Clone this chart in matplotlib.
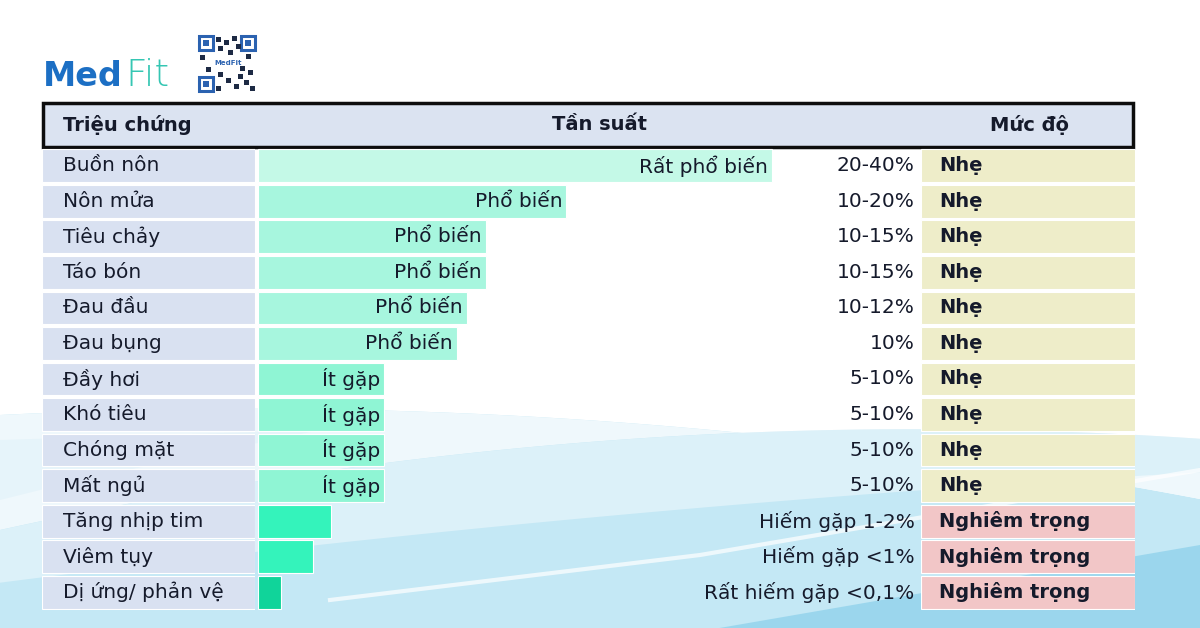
import numpy as np
import matplotlib
matplotlib.use("Agg")
import matplotlib.pyplot as plt
from matplotlib.patches import Rectangle, Polygon

plt.rcParams['font.family'] = ['DejaVu Sans']

# ---- data ----
symptoms = ["Buồn nôn", "Nôn mửa", "Tiêu chảy", "Táo bón", "Đau đầu", "Đau bụng",
            "Đầy hơi", "Khó tiêu", "Chóng mặt", "Mất ngủ", "Tăng nhịp tim",
            "Viêm tụy", "Dị ứng/ phản vệ"]
bar_score = [100, 60, 44.4, 44.4, 40.7, 38.7, 24.5, 24.5, 24.5, 24.5, 14.2, 10.7, 4.5]
freq_class = ["Rất phổ biến", "Phổ biến", "Phổ biến", "Phổ biến", "Phổ biến", "Phổ biến",
              "Ít gặp", "Ít gặp", "Ít gặp", "Ít gặp", "", "", ""]
freq_pct = ["20-40%", "10-20%", "10-15%", "10-15%", "10-12%", "10%",
            "5-10%", "5-10%", "5-10%", "5-10%",
            "Hiếm gặp 1-2%", "Hiếm gặp <1%", "Rất hiếm gặp <0,1%"]
severity = ["Nhẹ"] * 10 + ["Nghiêm trọng"] * 3
headers = ["Triệu chứng", "Tần suất", "Mức độ"]

class_colors = {"Rất phổ biến": "#c4f9e7", "Phổ biến": "#a7f6de", "Ít gặp": "#8ff5d4"}
rare_colors = ["#34f3bb", "#34f3bb", "#10d49a"]
sev_colors = {"Nhẹ": "#eeedc9", "Nghiêm trọng": "#f2c6c7"}
txt = "#151a2b"
label_bg = "#d9e1f1"
fs = 14.5      # regular text
fsb = 14       # bold text

W, H = 1200, 628
fig = plt.figure(figsize=(12, 6.28), dpi=100, facecolor="#c4e8f5")

# ---- background swooshes ----
bg = fig.add_axes([0, 0, 1, 1])
bg.set_xlim(0, W)
bg.set_ylim(H, 0)
bg.axis("off")
x = np.linspace(0, W, 200)
bg.fill_between(x, 0, 390 + 0.00010 * (x - 500) ** 2 + 0.05 * x, color="white", lw=0)
bg.fill_between(x, 390 + 0.00010 * (x - 500) ** 2 + 0.05 * x,
                500 - 0.10 * x + 0.00012 * (x - 500) ** 2, color="#eff8fc", lw=0)
bg.fill_between(x, 500 - 0.10 * x + 0.00012 * (x - 500) ** 2,
                580 - 0.11 * x + 0.00003 * (x - 300) ** 2, color="#dcf1f9", lw=0)
bg.add_patch(Polygon([[650, 640], [1200, 545], [1200, 640]], closed=True,
                     color="#80cbe8", lw=0, alpha=0.6, clip_on=False))
bg.add_patch(Polygon([[0, 500], [0, 440], [320, 430], [80, 480]], closed=True,
                     color="#e6f4fa", lw=0))
bg.plot([330, 700, 1200], [600, 555, 470], color="white", lw=3, alpha=0.7)

# ---- logo ----
med = bg.text(43, 76, "Med", fontsize=24, fontweight="bold", color="#1c6fc4",
              va="center", ha="left")
fig.canvas.draw()
ext = med.get_window_extent()
bg.annotate("Fit", (ext.x1 / W, 76), xycoords=("figure fraction", "data"),
            xytext=(2, 0), textcoords="offset points",
            fontsize=27, fontweight="light", color="#35c6b3", va="center", ha="left")
bg.add_patch(Rectangle((198, 35), 58, 57, color="white", lw=0))
for fx, fy in [(199, 36), (241, 36), (199, 77)]:
    bg.add_patch(Rectangle((fx, fy), 14, 14, fc="white", ec="#2b62b0", lw=2.2))
    bg.add_patch(Rectangle((fx + 4, fy + 4), 6, 6, color="#2b62b0", lw=0))
qr_blocks = [(216, 37), (224, 40), (232, 36), (218, 46), (228, 50), (236, 44),
             (246, 54), (200, 55), (206, 67), (240, 66), (248, 70), (218, 72),
             (226, 78), (234, 84), (244, 80), (250, 86), (216, 86), (238, 74)]
for bx, by in qr_blocks:
    bg.add_patch(Rectangle((bx, by), 5, 5, color="#1d2a44", lw=0))
bg.text(228, 63, "MedFit", fontsize=5, fontweight="bold", color="#2b62b0",
        ha="center", va="center")

# ---- header ----
bg.add_patch(Rectangle((43, 103), 1090, 44, fc="#dbe3f1", ec="#0d0d0d", lw=2.5))
bg.text(63, 125, headers[0], fontsize=fsb, fontweight="bold", color=txt, va="center")
bg.text(600, 125, headers[1], fontsize=fsb, fontweight="bold", color=txt,
        va="center", ha="center")
bg.text(1029, 125, headers[2], fontsize=fsb, fontweight="bold", color=txt,
        va="center", ha="center")

# ---- table columns ----
n = len(symptoms)
ypos = np.arange(n)
hgt = (610 - 148) / H
y0 = (H - 610) / H


def col_axes(x0, x1):
    a = fig.add_axes([x0 / W, y0, (x1 - x0) / W, hgt])
    a.set_ylim(n - 0.5, -0.5)
    a.axis("off")
    return a


ax_lab = col_axes(42, 255)
ax_lab.set_xlim(0, 1)
ax_lab.barh(ypos, [1] * n, height=0.92, color=label_bg, edgecolor="white", lw=0.8)
for i, s in enumerate(symptoms):
    ax_lab.text(0.1, i, s, fontsize=fs, color=txt, va="center", ha="left")

bar_px = 660
ax_bar = col_axes(258, 258 + bar_px)
ax_bar.set_xlim(0, 100 * bar_px / 514)
cols = [class_colors.get(c) if c else None for c in freq_class]
k = 0
for i in range(n):
    if cols[i] is None:
        cols[i] = rare_colors[k]
        k += 1
ax_bar.barh(ypos, bar_score, height=0.92, color=cols, edgecolor="white", lw=0.8)
for i in range(n):
    if freq_class[i]:
        ax_bar.annotate(freq_class[i], (bar_score[i], i), xytext=(-3, 0),
                        textcoords="offset points", fontsize=fs, color=txt,
                        va="center", ha="right")
    ax_bar.text(0.995, i, freq_pct[i], transform=ax_bar.get_yaxis_transform(),
                fontsize=fs, color=txt, va="center", ha="right")

ax_sev = col_axes(921, 1135)
ax_sev.set_xlim(0, 1)
ax_sev.barh(ypos, [1] * n, height=0.92, color=[sev_colors[s] for s in severity],
            edgecolor="white", lw=0.8)
for i, s in enumerate(severity):
    ax_sev.text(0.085, i, s, fontsize=fsb, fontweight="bold", color=txt,
                va="center", ha="left")

fig.savefig("out.png", dpi=100, facecolor=fig.get_facecolor())
